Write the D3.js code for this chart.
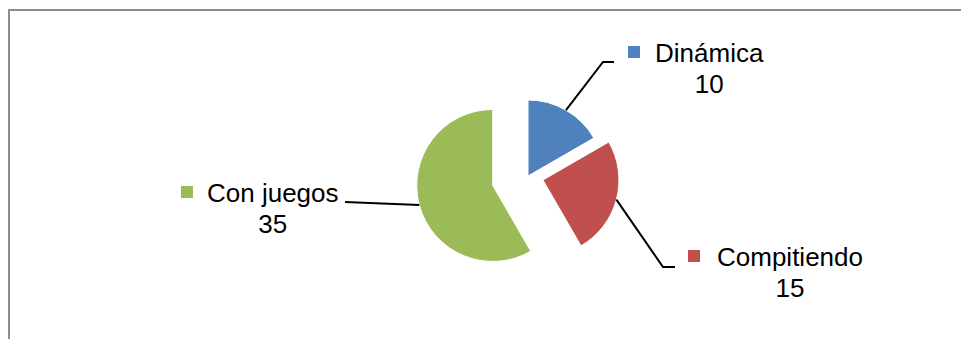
<!DOCTYPE html>
<html><head><meta charset="utf-8">
<script src="https://cdn.jsdelivr.net/npm/d3@7"></script>
<style>html,body{margin:0;padding:0;background:#fff;overflow:hidden}</style>
</head><body>
<svg id="c" width="961" height="339"></svg>
<script>
const categories = ["Dinámica", "Compitiendo", "Con juegos"];
const values = [10, 15, 35];
const colors = ["#4F81BD", "#C0504D", "#9BBB59"];

// layout
const cx = 528, cy = 176, R = 76;
const explode = [0, 15.5, 36.5];
const labels = [
  {elbow:[603,62], end:[614,62], sq:628, tx:655, base:62},
  {elbow:[663,267], end:[675,267], sq:688, tx:717, base:266},
  {elbow:null, end:[345,202], sq:181, tx:207, base:202}
];
const fs = 26;

const svg = d3.select("#c");
svg.append("rect").attr("x",9).attr("y",10).attr("width",1000).attr("height",400)
  .attr("fill","none").attr("stroke","#8c8c8c").attr("stroke-width",2);

const pie = d3.pie().sort(null).value(d=>d)(values);
const arc = d3.arc().innerRadius(0).outerRadius(R);

pie.forEach((p,i)=>{
  const mid = (p.startAngle+p.endAngle)/2;
  const ox = cx + explode[i]*Math.sin(mid), oy = cy - explode[i]*Math.cos(mid);
  svg.append("path").attr("d", arc(p)).attr("transform",`translate(${ox},${oy})`)
    .attr("fill", colors[i]).attr("stroke","#fff").attr("stroke-width",1);
  const sx = ox + R*Math.sin(mid), sy = oy - R*Math.cos(mid);
  const L = labels[i];
  const pts = [[sx,sy]];
  if (L.elbow) pts.push(L.elbow);
  pts.push(L.end);
  svg.append("path").attr("d", d3.line()(pts)).attr("fill","none")
    .attr("stroke","#000").attr("stroke-width",2);
  const sqs = 12;
  svg.append("rect").attr("x",L.sq).attr("y",L.base-16).attr("width",sqs).attr("height",sqs)
    .attr("fill",colors[i]);
  const t = svg.append("text").attr("x",L.tx).attr("y",L.base)
    .attr("font-family","'Liberation Sans', Arial, sans-serif").attr("font-size",fs)
    .attr("fill","#000").text(categories[i]);
  const w = t.node().getComputedTextLength();
  svg.append("text").attr("x",L.tx + w/2).attr("y",L.base+31)
    .attr("text-anchor","middle")
    .attr("font-family","'Liberation Sans', Arial, sans-serif").attr("font-size",fs)
    .attr("fill","#000").text(values[i]);
});
</script>
</body></html>
